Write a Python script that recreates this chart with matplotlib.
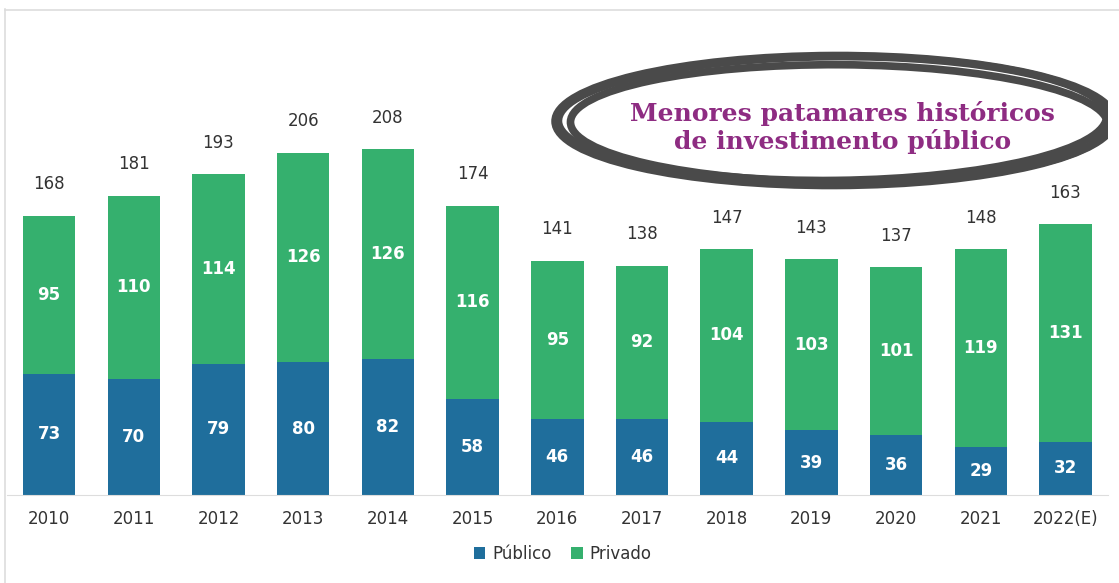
import matplotlib
matplotlib.use("Agg")
import matplotlib.pyplot as plt
import numpy as np
from matplotlib.patches import Ellipse
from matplotlib.lines import Line2D

years = ["2010", "2011", "2012", "2013", "2014", "2015", "2016",
         "2017", "2018", "2019", "2020", "2021", "2022(E)"]
publico = [73, 70, 79, 80, 82, 58, 46, 46, 44, 39, 36, 29, 32]
privado = [95, 110, 114, 126, 126, 116, 95, 92, 104, 103, 101, 119, 131]
totais = [168, 181, 193, 206, 208, 174, 141, 138, 147, 143, 137, 148, 163]

c_pub = "#1f6e9c"
c_priv = "#35b06e"

fig = plt.figure(figsize=(11.19, 5.83), dpi=100)
ax = fig.add_axes([0.006, 0.151, 0.984, 0.832])

x = np.arange(len(years))
w = 0.62
ax.bar(x, publico, w, color=c_pub, label="Público")
ax.bar(x, privado, w, bottom=publico, color=c_priv, label="Privado")

for i in range(len(years)):
    ax.text(x[i], publico[i] / 2, str(publico[i]), ha="center", va="center",
            color="white", fontsize=12, fontweight="semibold")
    ax.text(x[i], publico[i] + privado[i] / 2, str(privado[i]), ha="center",
            va="center", color="white", fontsize=12, fontweight="semibold")
    ax.text(x[i], publico[i] + privado[i] + 19, str(totais[i]), ha="center",
            va="center", color="#333333", fontsize=12)

ax.set_xlim(-0.5, len(years) - 0.5)
ax.set_ylim(0, 292)
ax.set_xticks(x)
ax.set_xticklabels(years, fontsize=12, color="#333333")
ax.tick_params(axis="x", length=0, pad=11)
ax.set_yticks([])
for s in ["top", "right", "left"]:
    ax.spines[s].set_visible(False)
ax.spines["bottom"].set_color("#dddddd")

# frame lines
fig.add_artist(Line2D([0.0045, 0.0045], [0, 0.985], color="#dddddd", lw=1.2))
fig.add_artist(Line2D([0.0045, 1], [0.983, 0.983], color="#dddddd", lw=1.2))

# highlight bubble
for dx, dy, ww, hh, ang in [(0.0, 0.0, 0.508, 0.268, 0.5),
                            (0.004, -0.006, 0.488, 0.242, -0.8),
                            (-0.002, 0.004, 0.498, 0.255, 1.5)]:
    ax.add_patch(Ellipse((0.752 + dx, 0.772 + dy), ww, hh, angle=ang,
                         transform=ax.transAxes, fill=False,
                         edgecolor="#4a4a4a", lw=5.5))
ax.text(0.759, 0.758, "Menores patamares históricos\nde investimento público",
        transform=ax.transAxes, ha="center", va="center", fontsize=18,
        fontweight="bold", family="DejaVu Serif", color="#8e2c82",
        linespacing=1.15)

ax.legend(loc="upper center", bbox_to_anchor=(0.505, -0.072), ncol=2,
          frameon=False, fontsize=12, handlelength=0.7, handleheight=0.7,
          handletextpad=0.4, columnspacing=1.2, labelcolor="#333333")

fig.savefig("out.png", dpi=100)
